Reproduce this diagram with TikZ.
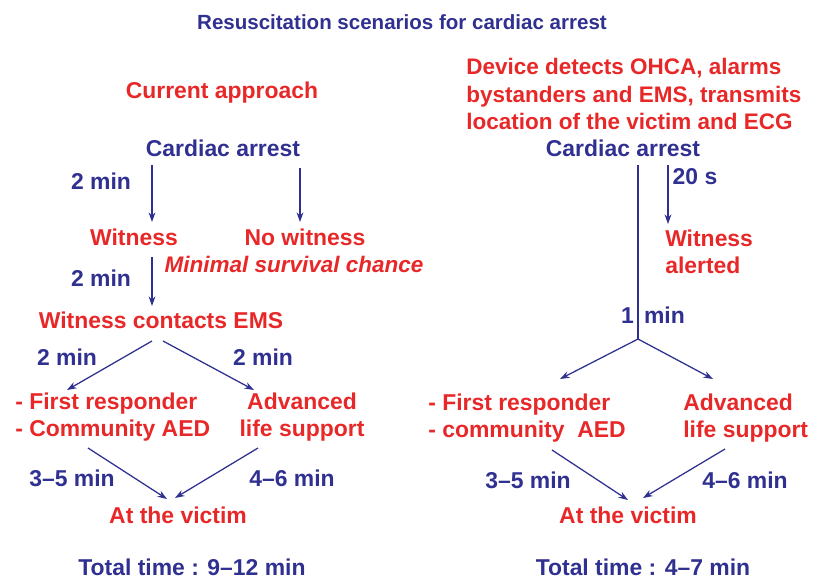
\documentclass[tikz,border=0pt]{standalone}
\usepackage{fontspec}
\setmainfont{Liberation Sans}
\usetikzlibrary{arrows.meta}
\definecolor{sotetkek}{RGB}{48,48,145}
\definecolor{piros}{RGB}{232,40,40}

\begin{document}
\begin{tikzpicture}[x=0.025cm, y=-0.025cm, >={Stealth[length=2.4mm,width=1.7mm]},
    kek/.style={text=sotetkek, inner sep=0pt, font=\bfseries\fontsize{16.3}{19.5}\selectfont},
    voros/.style={text=piros, inner sep=0pt, font=\bfseries\fontsize{16.3}{19.5}\selectfont},
    nyil/.style={->, sotetkek, line width=0.9pt}]
    \useasboundingbox (0,0) rectangle (817,579);

    % Cim
    \node[kek, font=\bfseries\fontsize{14.6}{17}\selectfont] (cim) at (402,22) {Resuscitation scenarios for cardiac arrest};

    % Bal oldal: jelenlegi megkozelites
    \node[voros] (jelen) at (222,93) {Current approach};
    \node[kek] (megall1) at (223,148) {Cardiac arrest};
    \node[voros] (tanu1) at (134,237) {Witness};
    \node[voros] (nincs) at (305,237) {No witness};
    \node[voros, font=\bfseries\itshape\fontsize{16}{19}\selectfont] (esely) at (294,264) {Minimal survival chance};
    \node[voros] (hivas) at (161,320) {Witness contacts EMS};
    \node[voros, align=left, anchor=west] (elso1) at (15,417) {- First responder\\- Community AED};
    \node[voros, align=center] (als1) at (302,417) {Advanced\\life support};
    \node[voros] (aldozat1) at (178,515) {At the victim};
    \node[kek] (ossz1) at (192,567) {Total time : 9--12 min};

    % Bal oldali nyilak vegpontjai
    \coordinate (a1) at (152,165);  \coordinate (a2) at (152,222);
    \coordinate (b1) at (300,168);  \coordinate (b2) at (300,222);
    \coordinate (c1) at (152,257);  \coordinate (c2) at (152,306);
    \coordinate (d0) at (152,341);  \coordinate (d1) at (67,390);
    \coordinate (e0) at (163,341);  \coordinate (e1) at (254,390);
    \coordinate (f0) at (88,448);   \coordinate (f1) at (167,499);
    \coordinate (g0) at (258,448);  \coordinate (g1) at (175,498);

    \draw[nyil] (a1) -- (a2);
    \draw[nyil] (b1) -- (b2);
    \draw[nyil] (c1) -- (c2);
    \draw[nyil] (d0) -- (d1);
    \draw[nyil] (e0) -- (e1);
    \draw[nyil] (f0) -- (f1);
    \draw[nyil] (g0) -- (g1);

    \node[kek] (ido1) at (101,181) {2 min};
    \node[kek] (ido2) at (101,278) {2 min};
    \node[kek] (ido3) at (67,357) {2 min};
    \node[kek] (ido4) at (263,357) {2 min};
    \node[kek] (ido5) at (72,478) {3--5 min};
    \node[kek] (ido6) at (292,478) {4--6 min};

    % Jobb oldal: eszkoz riaszt
    \node[voros, align=left, anchor=west, font=\bfseries\fontsize{16}{19.5}\selectfont] (eszkoz) at (466,94) {Device detects OHCA, alarms\\bystanders and EMS, transmits\\location of the victim and ECG};
    \node[kek] (megall2) at (623,148) {Cardiac arrest};
    \node[voros, align=left, anchor=west] (tanu2) at (665,252) {Witness\\alerted};
    \node[voros, align=left, anchor=west] (elso2) at (428,418) {- First responder\\- community\ \ AED};
    \node[voros, align=left, anchor=west] (als2) at (683,418) {Advanced\\life support};
    \node[voros] (aldozat2) at (628,515) {At the victim};
    \node[kek] (ossz2) at (643,567) {Total time : 4--7 min};

    % Jobb oldali vonalak
    \coordinate (h1) at (638,165);  \coordinate (elag) at (638,339);
    \coordinate (i1) at (668,165);  \coordinate (i2) at (668,224);
    \coordinate (j1) at (560,379);  \coordinate (k1) at (713,379);
    \coordinate (l0) at (552,450);  \coordinate (l1) at (628,500);
    \coordinate (m0) at (725,449);  \coordinate (m1) at (643,498);

    \node[kek] (ido7) at (653,315) {1\,\ min};
    \draw[sotetkek, line width=0.9pt] (h1) -- (elag);
    \draw[nyil] (i1) -- (i2);
    \draw[nyil] (elag) -- (j1);
    \draw[nyil] (elag) -- (k1);
    \draw[nyil] (l0) -- (l1);
    \draw[nyil] (m0) -- (m1);

    \node[kek] (ido8) at (695,177) {20 s};
    \node[kek] (ido9) at (528,480) {3--5 min};
    \node[kek] (ido10) at (745,480) {4--6 min};

\end{tikzpicture}
\end{document}
